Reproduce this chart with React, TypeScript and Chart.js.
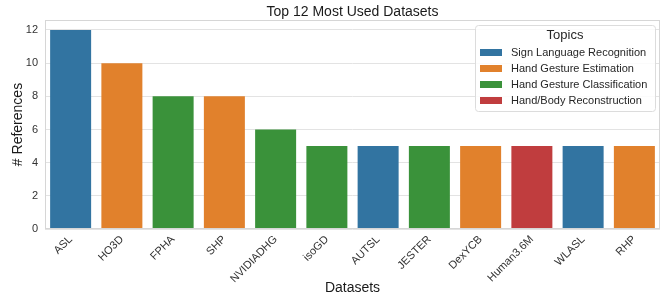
import React, { useEffect, useRef } from "react";
import { Chart, registerables } from "chart.js";

Chart.register(...registerables);

const categories = ["ASL", "HO3D", "FPHA", "SHP", "NVIDIADHG", "isoGD", "AUTSL", "JESTER", "DexYCB", "Human3.6M", "WLASL", "RHP"];
const references = [12, 10, 8, 8, 6, 5, 5, 5, 5, 5, 5, 5];
const topicOfBar = [0, 1, 2, 1, 2, 2, 0, 2, 1, 3, 0, 1];
const topics = ["Sign Language Recognition", "Hand Gesture Estimation", "Hand Gesture Classification", "Hand/Body Reconstruction"];
const topicColors = ["#3274a1", "#e1812c", "#3a923a", "#c03d3e"];
const yTicks = [0, 2, 4, 6, 8, 10, 12];

const FONT = "'Liberation Sans', Arial, 'DejaVu Sans', sans-serif";

export default function App() {
  const ref = useRef<HTMLCanvasElement | null>(null);
  useEffect(() => {
    if (!ref.current) return;
    const decor = {
      id: "decor",
      afterDraw(chart: any) {
        const ctx = chart.ctx;
        const a = chart.chartArea;
        ctx.save();
        ctx.strokeStyle = "#d6d6d6";
        ctx.lineWidth = 1;
        ctx.strokeRect(Math.round(a.left) + 0.5, Math.round(a.top) + 0.5, Math.round(a.right - a.left) - 1, Math.round(a.bottom - a.top) - 1);
        ctx.fillStyle = "#1a1a1a";
        ctx.font = `14px ${FONT}`;
        ctx.textAlign = "center";
        ctx.textBaseline = "middle";
        ctx.fillText("Top 12 Most Used Datasets", (a.left + a.right) / 2, 12.5);
        const lx = 475, ly = 25, lw = 180, lh = 86;
        ctx.beginPath();
        ctx.roundRect(lx + 0.5, ly + 0.5, lw, lh, 3);
        ctx.fillStyle = "rgba(255,255,255,0.85)";
        ctx.fill();
        ctx.strokeStyle = "#dcdcdc";
        ctx.stroke();
        ctx.fillStyle = "#262626";
        ctx.font = `13px ${FONT}`;
        ctx.textAlign = "center";
        ctx.fillText("Topics", 565, 35);
        ctx.font = `11px ${FONT}`;
        ctx.textAlign = "left";
        topics.forEach((t, i) => {
          const cy = 52.5 + i * 16;
          ctx.fillStyle = topicColors[i];
          ctx.fillRect(480, cy - 3.5, 22, 7);
          ctx.fillStyle = "#262626";
          ctx.fillText(t, 511, cy);
        });
        ctx.restore();
      },
    };
    const chart = new Chart(ref.current, {
      type: "bar",
      data: {
        labels: categories,
        datasets: [
          {
            data: references,
            backgroundColor: topicOfBar.map((t) => topicColors[t]),
            borderWidth: 0,
            categoryPercentage: 1,
            barPercentage: 0.8,
          },
        ],
      },
      options: {
        responsive: false,
        animation: false,
        devicePixelRatio: 1,
        layout: { padding: { top: 20, right: 5, left: 0, bottom: 0 } },
        plugins: { legend: { display: false }, title: { display: false }, tooltip: { enabled: false } },
        scales: {
          x: {
            grid: { display: false, drawTicks: false },
            border: { display: false },
            ticks: { minRotation: 45, maxRotation: 45, padding: 4, color: "#333", font: { size: 11, family: FONT } },
            title: { display: true, text: "Datasets", color: "#1a1a1a", font: { size: 14, family: FONT }, padding: { top: 0, bottom: 2 } },
            afterFit(scale: any) { scale.height = 70; },
          },
          y: {
            min: 0,
            max: 12.6,
            grid: { color: "#e3e3e3", drawTicks: false, tickLength: 0 },
            border: { display: false },
            ticks: { padding: 7, color: "#333", font: { size: 11, family: FONT } },
            afterBuildTicks(scale: any) { scale.ticks = yTicks.map((v) => ({ value: v })); },
            title: { display: true, text: "# References", color: "#1a1a1a", font: { size: 14, family: FONT }, padding: { top: 10, bottom: 0 } },
            afterFit(scale: any) { scale.width = 45; },
          },
        },
      },
      plugins: [decor],
    });
    return () => chart.destroy();
  }, []);
  return (
    <div style={{ position: "absolute", left: 0, top: 0, width: 665, height: 299, background: "#fff" }}>
      <canvas ref={ref} width={665} height={299} />
    </div>
  );
}
